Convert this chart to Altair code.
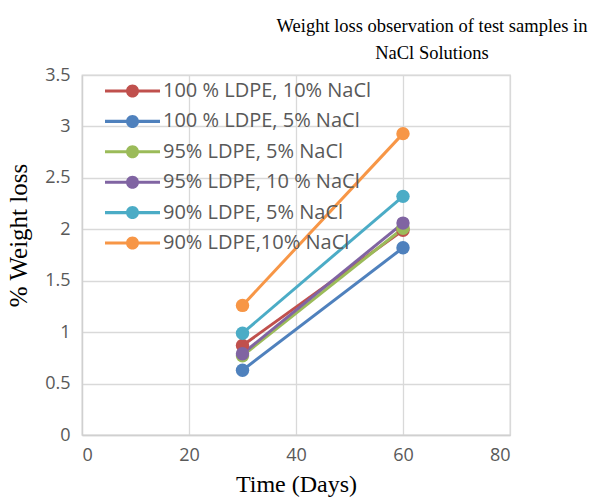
import altair as alt
import pandas as pd

series = ["100 % LDPE, 10% NaCl", "100 % LDPE, 5% NaCl", "95% LDPE, 5% NaCl",
          "95% LDPE, 10 % NaCl", "90% LDPE, 5% NaCl", "90% LDPE,10% NaCl"]
colors = ["#C0504D", "#4F81BD", "#9BBB59", "#8064A2", "#4BACC6", "#F79646"]
days = [30, 60]
values = {
    "100 % LDPE, 10% NaCl": [0.87, 1.99],
    "100 % LDPE, 5% NaCl": [0.63, 1.82],
    "95% LDPE, 5% NaCl": [0.77, 2.01],
    "95% LDPE, 10 % NaCl": [0.79, 2.06],
    "90% LDPE, 5% NaCl": [0.99, 2.32],
    "90% LDPE,10% NaCl": [1.26, 2.93],
}

rows = []
for i, s in enumerate(series):
    for d, v in zip(days, values[s]):
        rows.append({"series": s, "order": i, "day": d, "loss": v})
df = pd.DataFrame(rows)

# legend glyph: line segment with a circle marker (unit = 14 px)
sym = ("M-1,-0.11 L2.93,-0.11 L2.93,0.11 L-1,0.11 Z "
       "M1.43,0 A0.465,0.465 0 1,1 0.5,0 A0.465,0.465 0 1,1 1.43,0 Z")

chart = alt.Chart(df).mark_line(
    strokeWidth=3,
    point=alt.OverlayMarkDef(filled=True, size=180, opacity=1),
).encode(
    x=alt.X("day:Q", scale=alt.Scale(domain=[0, 80]),
            axis=alt.Axis(values=[0, 20, 40, 60, 80], title="Time (Days)")),
    y=alt.Y("loss:Q", scale=alt.Scale(domain=[0, 3.5]),
            axis=alt.Axis(values=[0, 0.5, 1, 1.5, 2, 2.5, 3, 3.5], format="~g",
                          title="% Weight loss", titleX=-64, titleY=160,
                          titleBaseline="middle", titleAlign="center", titleAngle=270)),
    color=alt.Color("series:N", sort=series,
                    scale=alt.Scale(domain=series, range=colors),
                    legend=alt.Legend(title=None, orient="none", legendX=23, legendY=2,
                                      symbolType=sym, symbolSize=784,
                                      symbolStrokeWidth=0, symbolOpacity=1,
                                      labelFontSize=20, labelColor="#595959",
                                      labelFont="Open Sans", rowPadding=6.4,
                                      labelOffset=30, labelLimit=400)),
    order=alt.Order("day:Q"),
).properties(
    width=428, height=360,
    title=alt.TitleParams(["Weight loss observation of test samples in", "NaCl Solutions"],
                          font="Liberation Serif", fontSize=18.5, fontWeight="normal",
                          color="#000000", anchor="middle", dx=136, offset=4,
                          lineHeight=27),
    autosize=alt.AutoSizeParams(type="none"),
    padding={"left": 82, "top": 75, "right": 86, "bottom": 62},
).configure_axis(
    grid=True, gridColor="#d9d9d9", gridWidth=1.3,
    domainColor="#d0d0d0", domainWidth=1.3, ticks=False,
    labelFont="Open Sans", labelFontSize=18, labelColor="#595959",
    titleFont="Liberation Serif", titleFontWeight="normal",
    titleColor="#000000",
).configure_axisX(labelPadding=11, titlePadding=8, titleFontSize=24).configure_axisY(
    labelPadding=12, titleFontSize=25
).configure_view(stroke="#d9d9d9", strokeWidth=1.3)

chart.save("out.html", embed_options={"renderer": "svg", "actions": False})
